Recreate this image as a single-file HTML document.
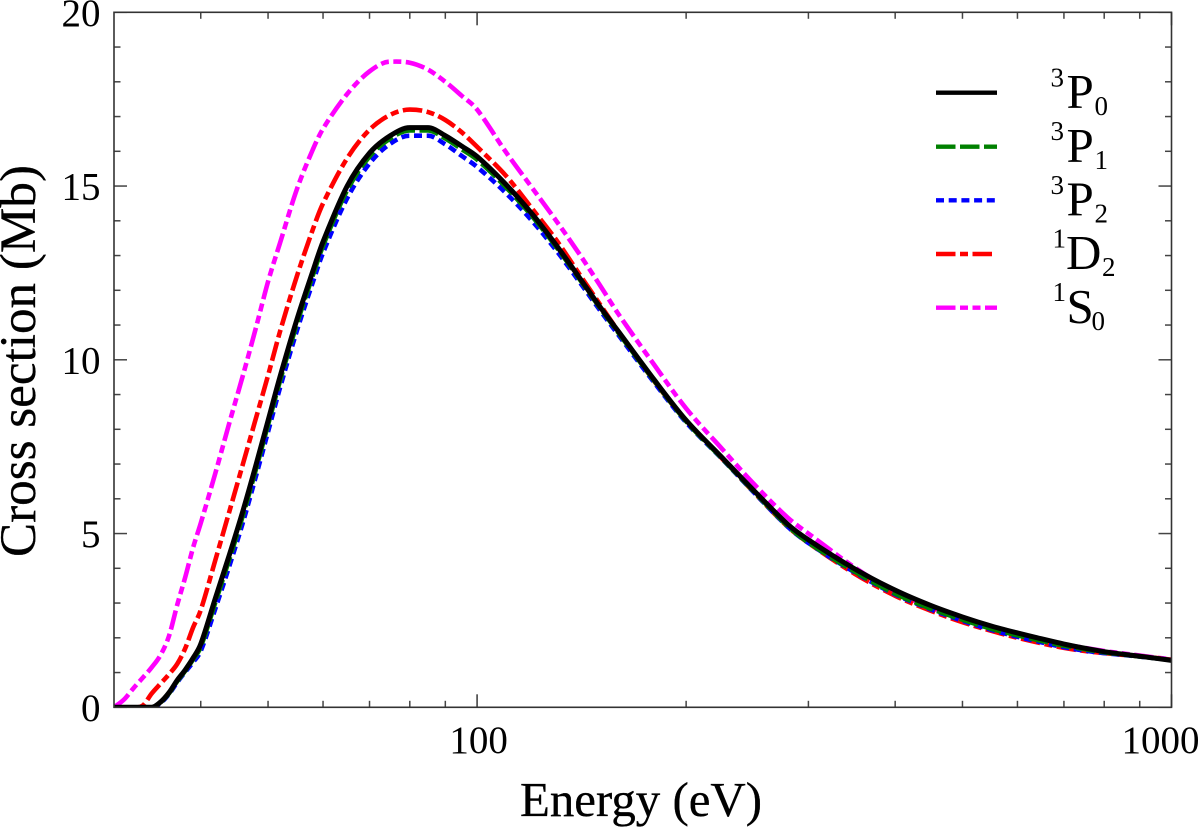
<!DOCTYPE html>
<html>
<head>
<meta charset="utf-8">
<style>
html,body{margin:0;padding:0;background:#fff;}
svg{display:block;}
text{font-family:"Liberation Serif",serif;fill:#000;}
</style>
</head>
<body>
<svg id="chart" width="1200" height="828" viewBox="0 0 1200 828" xmlns="http://www.w3.org/2000/svg">
  <rect x="0" y="0" width="1200" height="828" fill="#fff"/>
  <defs><clipPath id="plot-clip"><rect x="114" y="12.3" width="1057.5" height="695"/></clipPath></defs>
  <g id="series-layer" clip-path="url(#plot-clip)"></g>
  <g id="tick-layer"></g>
  <rect x="114" y="12.3" width="1057.5" height="695" fill="none" stroke="#333" stroke-width="1.6"/>
  <g id="label-layer" font-size="39"></g>
  <text x="520" y="816" font-size="49" textLength="242" lengthAdjust="spacingAndGlyphs" stroke="#000" stroke-width="0.3">Energy (eV)</text>
  <text transform="translate(35 557) rotate(-90)" font-size="51" textLength="392" lengthAdjust="spacingAndGlyphs" stroke="#000" stroke-width="0.3">Cross section (Mb)</text>
  <g>
    <g>
      <line x1="936" x2="997" y1="92.7" y2="92.7" stroke="#000" stroke-width="4.4"/>
      <text x="1050.5" y="86.5" font-size="27">3</text><text x="1066.5" y="108" font-size="49">P</text><text x="1094.5" y="115" font-size="27">0</text>
    </g>
    <g>
      <line x1="936" x2="997" y1="146.7" y2="146.7" stroke="#008000" stroke-width="4.4" stroke-dasharray="19.5 4.5"/>
      <text x="1050.5" y="140" font-size="27">3</text><text x="1066.5" y="162" font-size="49">P</text><text x="1094.5" y="169" font-size="27">1</text>
    </g>
    <g>
      <line x1="936" x2="995" y1="200.3" y2="200.3" stroke="#0000ff" stroke-width="4.4" stroke-dasharray="8 4.7"/>
      <text x="1050.5" y="194" font-size="27">3</text><text x="1066.5" y="215.7" font-size="49">P</text><text x="1094.5" y="222.7" font-size="27">2</text>
    </g>
    <g>
      <line x1="936" x2="995" y1="254" y2="254" stroke="#ff0000" stroke-width="4.4" stroke-dasharray="19.5 4.5 8 4.5"/>
      <text x="1052.5" y="247.5" font-size="27">1</text><text x="1066" y="269" font-size="49">D</text><text x="1102" y="276" font-size="27">2</text>
    </g>
    <g>
      <line x1="936" x2="997" y1="307.7" y2="307.7" stroke="#ff00ff" stroke-width="4.4" stroke-dasharray="19.5 4.5 8 4.5 8 4.5"/>
      <text x="1052.5" y="301" font-size="27">1</text><text x="1066.5" y="323" font-size="49">S</text><text x="1091.5" y="330" font-size="27">0</text>
    </g>
  </g>
</svg>
<script>
const energies = [30,31,32,33,34,35,36,37,38,39,40,42,44,46,48,50,52,55,58,60,65,70,75,80,85,90,95,100,110,120,130,140,150,160,180,200,225,250,280,300,350,400,450,500,550,600,650,700,750,800,850,900,950,1000];
const s3P0 = [0,0,0,0,0,0.15,0.42,0.78,1.08,1.42,1.82,3.15,4.4,5.65,6.95,8.25,9.5,11.15,12.55,13.4,15.0,15.95,16.45,16.68,16.68,16.45,16.15,15.85,15.05,14.2,13.3,12.4,11.55,10.8,9.42,8.26,7.2,6.25,5.27,4.82,3.98,3.37,2.93,2.6,2.34,2.14,1.97,1.82,1.7,1.6,1.53,1.47,1.41,1.35];
const s3P1 = [0,0,0,0,0,0.14,0.4,0.75,1.05,1.38,1.74,3.03,4.28,5.52,6.83,8.13,9.38,11.03,12.43,13.28,14.88,15.85,16.37,16.6,16.6,16.37,16.06,15.76,14.97,14.13,13.25,12.36,11.52,10.76,9.39,8.23,7.17,6.22,5.22,4.74,3.9,3.27,2.84,2.52,2.26,2.07,1.91,1.77,1.67,1.58,1.52,1.46,1.41,1.36];
const s3P2 = [0,0,0,0,0,0.12,0.38,0.72,1.02,1.3,1.62,2.85,4.08,5.32,6.63,7.93,9.18,10.83,12.23,13.08,14.65,15.65,16.22,16.45,16.45,16.2,15.87,15.55,14.8,14.0,13.15,12.28,11.45,10.7,9.34,8.2,7.16,6.2,5.2,4.73,3.88,3.25,2.82,2.49,2.23,2.03,1.87,1.73,1.63,1.56,1.51,1.46,1.41,1.36];
const s1D2 = [0,0,0,0.05,0.4,0.68,0.95,1.25,1.7,2.3,2.8,4.25,5.65,7.0,8.3,9.55,10.8,12.4,13.75,14.5,15.8,16.62,17.05,17.2,17.13,16.9,16.55,16.13,15.3,14.35,13.45,12.5,11.62,10.8,9.38,8.24,7.17,6.2,5.2,4.73,3.84,3.21,2.78,2.45,2.2,2.0,1.84,1.71,1.62,1.56,1.51,1.47,1.42,1.37];
const s1S0 = [0,0.22,0.55,0.85,1.15,1.5,2.05,2.95,3.75,4.6,5.3,6.75,8.2,9.55,10.9,12.25,13.35,14.9,16.05,16.65,17.65,18.3,18.58,18.55,18.35,18.0,17.6,17.2,15.98,14.95,14.0,13.08,12.17,11.3,9.85,8.6,7.45,6.44,5.46,5.0,4.02,3.32,2.88,2.56,2.31,2.11,1.95,1.81,1.71,1.62,1.55,1.49,1.43,1.38];
const xMajorTicks = [100,1000];
const xMinorTicks = [40,50,60,70,80,90,200,300,400,500,600,700,800,900];
const xTickLabels = ["100","1000"];
const yTickValues = [0,1,2,3,4,5,6,7,8,9,10,11,12,13,14,15,16,17,18,19,20];
const yLabelValues = [0,5,10,15,20];

const NS = "http://www.w3.org/2000/svg";
const X0 = 114, X1 = 1171.5, Y0 = 707.3, Y1 = 12.3;
const xMin = 30, xMax = 1000, yMin = 0, yMax = 20;
function xScale(v){ return X0 + (Math.log10(v) - Math.log10(xMin)) / (Math.log10(xMax) - Math.log10(xMin)) * (X1 - X0); }
function yScale(v){ return Y0 - (v - yMin) / (yMax - yMin) * (Y0 - Y1); }

const tickLayer = document.getElementById("tick-layer");
const labelLayer = document.getElementById("label-layer");
const seriesLayer = document.getElementById("series-layer");

function drawTick(x1, y1, x2, y2, w){
  const l = document.createElementNS(NS, "line");
  l.setAttribute("x1", x1); l.setAttribute("y1", y1);
  l.setAttribute("x2", x2); l.setAttribute("y2", y2);
  l.setAttribute("stroke", "#444");
  l.setAttribute("stroke-width", w);
  
  
  tickLayer.appendChild(l);
}
xMajorTicks.forEach(function(v){
  const x = xScale(v);
  drawTick(x, Y0, x, Y0 - 13, 1.6);
  drawTick(x, Y1, x, Y1 + 13, 1.6);
});
xMinorTicks.forEach(function(v){
  const x = xScale(v);
  drawTick(x, Y0, x, Y0 - 6.5, 1.5);
  drawTick(x, Y1, x, Y1 + 6.5, 1.5);
});
yTickValues.forEach(function(v){
  const y = yScale(v);
  const len = v % 5 === 0 ? 13 : 6.5;
  drawTick(X0, y, X0 + len, y, 1.5);
  drawTick(X1, y, X1 - len, y, 1.5);
});
yLabelValues.forEach(function(v){
  const t = document.createElementNS(NS, "text");
  t.setAttribute("x", 100.5);
  t.setAttribute("y", yScale(v) + 13.5);
  t.setAttribute("text-anchor", "end");
  t.textContent = String(v);
  
  
  labelLayer.appendChild(t);
});
xMajorTicks.forEach(function(v, i){
  const t = document.createElementNS(NS, "text");
  const x = xScale(v);
  if (x + 40 > 1200) { t.setAttribute("x", 1199.5); t.setAttribute("text-anchor", "end"); }
  else { t.setAttribute("x", x + 1.5); t.setAttribute("text-anchor", "middle"); }
  t.setAttribute("y", 753);
  t.textContent = xTickLabels[i];
  
  
  labelLayer.appendChild(t);
});

function smoothPath(values){
  const xs = energies.map(xScale);
  const ys = values.map(yScale);
  const n = xs.length;
  const slopes = [];
  for (let i = 0; i < n - 1; i++) slopes.push((ys[i + 1] - ys[i]) / (xs[i + 1] - xs[i]));
  const m = [];
  for (let i = 0; i < n; i++) {
    if (i === 0) m.push(slopes[0]);
    else if (i === n - 1) m.push(slopes[n - 2]);
    else if (slopes[i - 1] * slopes[i] <= 0) m.push(0);
    else m.push((ys[i + 1] - ys[i - 1]) / (xs[i + 1] - xs[i - 1]));
  }
  let d = "M" + xs[0].toFixed(2) + " " + ys[0].toFixed(2);
  for (let i = 0; i < n - 1; i++) {
    const h = (xs[i + 1] - xs[i]) / 3;
    d += "C" + (xs[i] + h).toFixed(2) + " " + (ys[i] + m[i] * h).toFixed(2) + " " +
         (xs[i + 1] - h).toFixed(2) + " " + (ys[i + 1] - m[i + 1] * h).toFixed(2) + " " +
         xs[i + 1].toFixed(2) + " " + ys[i + 1].toFixed(2);
  }
  return d;
}
function drawSeries(values, color, width, dash, name){
  const p = document.createElementNS(NS, "path");
  p.setAttribute("d", smoothPath(values));
  p.setAttribute("fill", "none");
  p.setAttribute("stroke", color);
  p.setAttribute("stroke-width", width);
  p.setAttribute("stroke-linejoin", "round");
  if (dash) p.setAttribute("stroke-dasharray", dash);
  
  
  seriesLayer.appendChild(p);
}
drawSeries(s1S0, "#ff00ff", 4.6, "19.5 4.5 8 4.5 8 4.5", "series-1s0");
drawSeries(s1D2, "#ff0000", 4.6, "19.5 4.5 8 4.5", "series-1d2");
drawSeries(s3P2, "#0000ff", 4.6, "8 4.7", "series-3p2");
drawSeries(s3P1, "#008000", 4.6, "19.5 4.5", "series-3p1");
drawSeries(s3P0, "#000000", 5, "", "series-3p0");
</script>
</body>
</html>
